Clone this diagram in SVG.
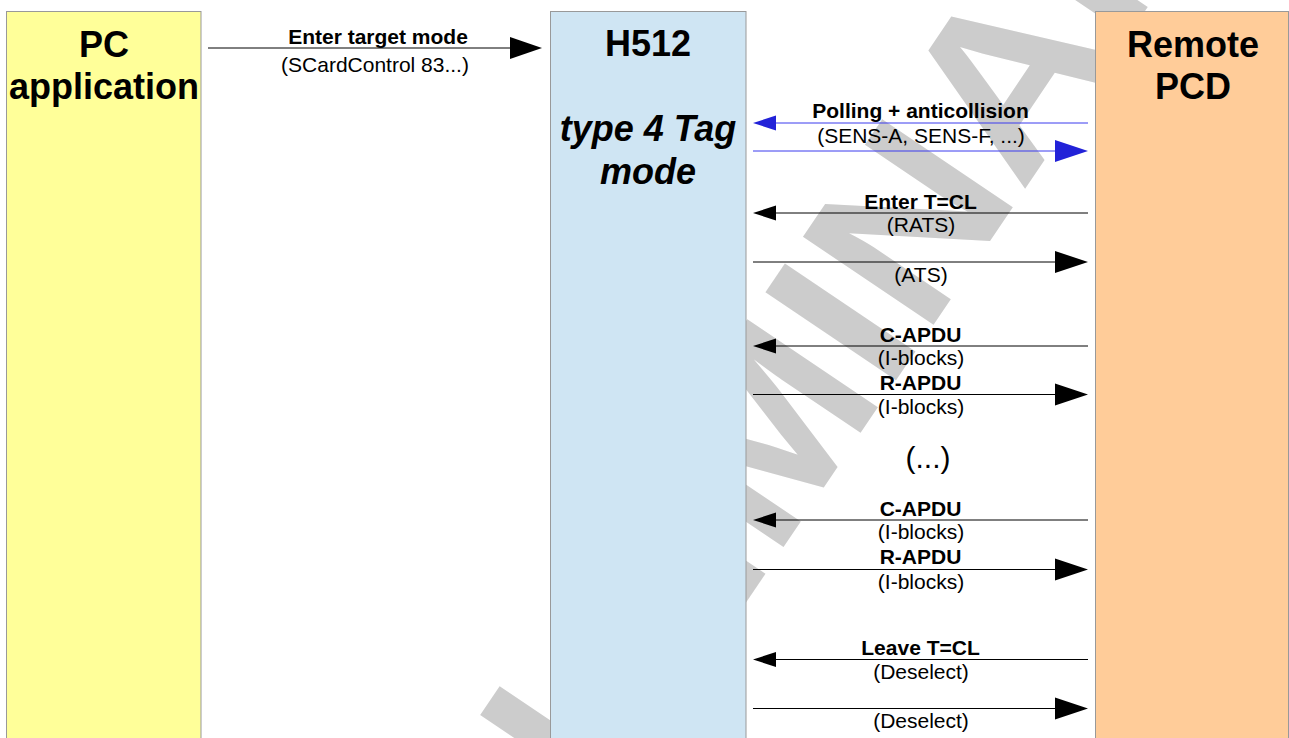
<svg xmlns="http://www.w3.org/2000/svg" width="1289" height="738" viewBox="0 0 1289 738">
<defs>
<style>
.box{stroke:#999999;stroke-width:1}
.title{font-family:"Liberation Sans",Arial,sans-serif;font-weight:bold;font-size:36px;fill:#000;text-anchor:middle}
.lb{font-family:"Liberation Sans",Arial,sans-serif;font-weight:bold;font-size:21px;fill:#000;text-anchor:middle}
.lr{font-family:"Liberation Sans",Arial,sans-serif;font-size:21px;fill:#000;text-anchor:middle}
.ln{stroke:#000;stroke-width:1;fill:none}
.lnb{stroke:#3a3aee;stroke-width:1;fill:none}
.wm{font-family:"Liberation Sans",Arial,sans-serif;font-weight:bold;font-size:229px;fill:#cccccc}
</style>
</defs>
<rect x="0" y="0" width="1289" height="738" fill="#ffffff"/>
<g id="watermark">
<text class="wm" transform="translate(324.2,1228) rotate(-56) scale(1.054,1)" x="0" y="0" dx="0 0 0 0 89.6">PRELIMINARY</text>
</g>
<g id="pc">
<rect class="box" x="6.5" y="11.5" width="194.5" height="740" fill="#ffff99"/>
<text class="title" x="104" y="57">PC</text>
<text class="title" x="104" y="99">application</text>
</g>
<g id="h512">
<rect class="box" x="550.5" y="11.5" width="195.5" height="740" fill="#cfe5f3"/>
<text class="title" x="648" y="56">H512</text>
<text class="title" x="648" y="141" font-style="italic">type 4 Tag</text>
<text class="title" x="648" y="184" font-style="italic">mode</text>
</g>
<g id="remote">
<rect class="box" x="1095.5" y="11.5" width="193" height="740" fill="#ffcc99"/>
<text class="title" x="1193" y="57">Remote</text>
<text class="title" x="1193" y="99">PCD</text>
</g>
<g id="connectors">
<line class="ln" x1="208" y1="48" x2="515" y2="48"/>
<polygon points="510,37 542,48 510,59" fill="#000"/>
<text class="lb" x="378" y="44">Enter target mode</text>
<text class="lr" x="375" y="72">(SCardControl 83...)</text>

<text class="lb" x="920.5" y="118">Polling + anticollision</text>
<line class="lnb" x1="770" y1="123" x2="1088" y2="123"/>
<polygon points="753,123 776,115.5 776,130.5" fill="#2222d8"/>
<text class="lr" x="921" y="142.5">(SENS-A, SENS-F, ...)</text>
<line class="lnb" x1="753" y1="151" x2="1060" y2="151"/>
<polygon points="1088,151 1055,140 1055,162" fill="#2222d8"/>

<text class="lb" x="920.5" y="209">Enter T=CL</text>
<line class="ln" x1="770" y1="213" x2="1088" y2="213"/>
<polygon points="753,213 776,205.5 776,220.5" fill="#000"/>
<text class="lr" x="921" y="232">(RATS)</text>

<line class="ln" x1="753" y1="262" x2="1060" y2="262"/>
<polygon points="1088,262 1055,251 1055,273" fill="#000"/>
<text class="lr" x="921" y="281.5">(ATS)</text>

<text class="lb" x="920.5" y="341.5">C-APDU</text>
<line class="ln" x1="770" y1="346" x2="1088" y2="346"/>
<polygon points="753,346 776,338.5 776,353.5" fill="#000"/>
<text class="lr" x="921" y="365">(I-blocks)</text>

<text class="lb" x="920.5" y="389.5">R-APDU</text>
<line class="ln" x1="753" y1="394.5" x2="1060" y2="394.5"/>
<polygon points="1088,394.5 1055,383.5 1055,405.5" fill="#000"/>
<text class="lr" x="921" y="413.5">(I-blocks)</text>

<text class="lr" x="928" y="468" style="font-size:30px">(...)</text>

<text class="lb" x="920.5" y="515.5">C-APDU</text>
<line class="ln" x1="770" y1="520" x2="1088" y2="520"/>
<polygon points="753,520 776,512.5 776,527.5" fill="#000"/>
<text class="lr" x="921" y="539">(I-blocks)</text>

<text class="lb" x="920.5" y="564">R-APDU</text>
<line class="ln" x1="753" y1="569.5" x2="1060" y2="569.5"/>
<polygon points="1088,569.5 1055,558.5 1055,580.5" fill="#000"/>
<text class="lr" x="921" y="588.5">(I-blocks)</text>

<text class="lb" x="920.5" y="655">Leave T=CL</text>
<line class="ln" x1="770" y1="659.5" x2="1088" y2="659.5"/>
<polygon points="753,659.5 776,652 776,667" fill="#000"/>
<text class="lr" x="921" y="678.5">(Deselect)</text>

<line class="ln" x1="753" y1="708.5" x2="1060" y2="708.5"/>
<polygon points="1088,708.5 1055,697.5 1055,719.5" fill="#000"/>
<text class="lr" x="921" y="727.5">(Deselect)</text>
</g>
</svg>
